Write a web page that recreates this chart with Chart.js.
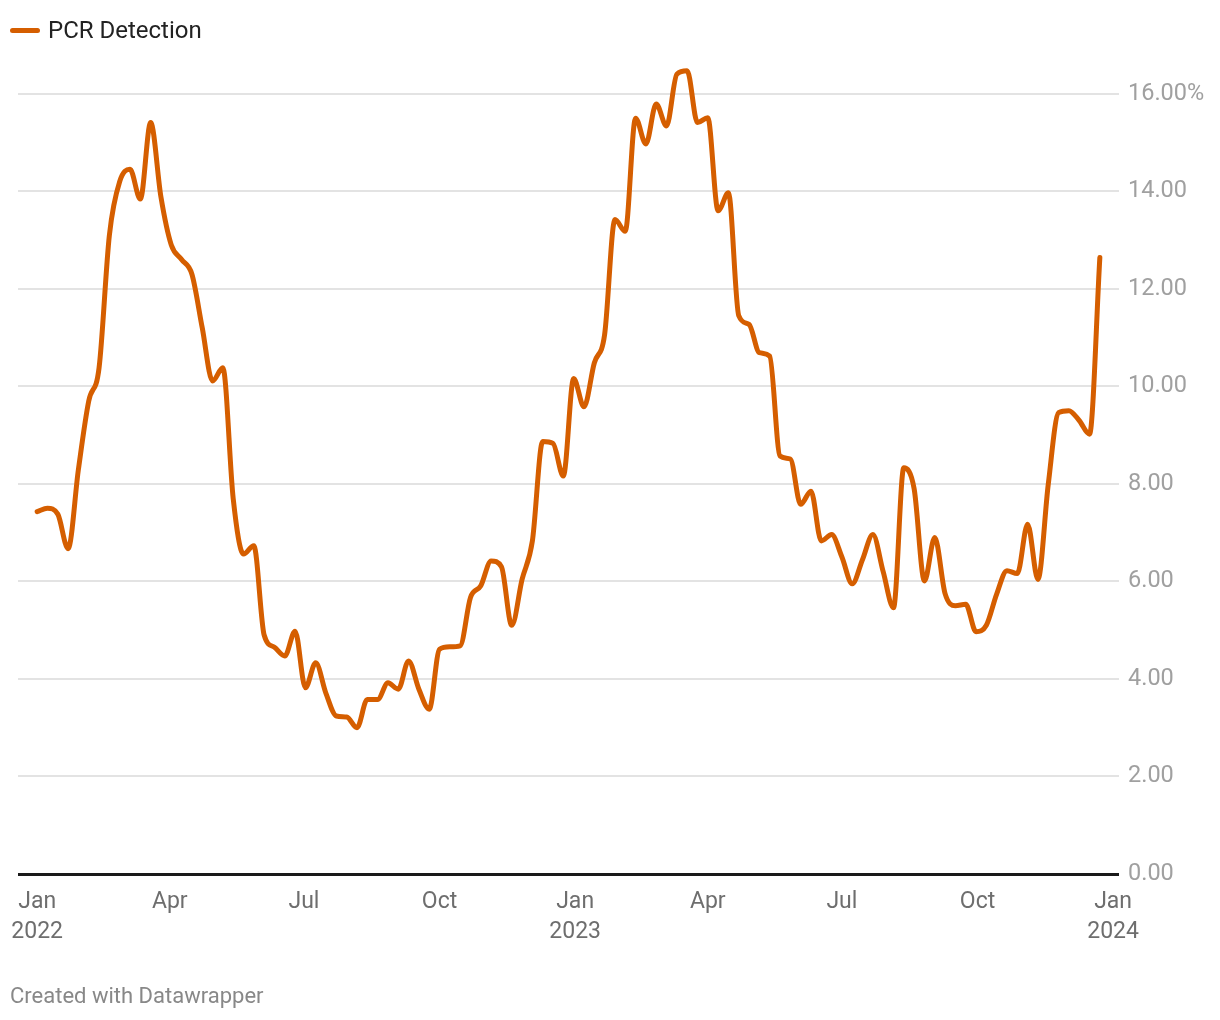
<!DOCTYPE html>
<html>
<head>
<meta charset="utf-8">
<script src="https://cdn.jsdelivr.net/npm/chart.js@4"></script>
<style>
  body { margin: 0; background: #fff; font-family: Roboto, sans-serif; }
  #wrap { position: relative; width: 1220px; height: 1020px; }
  #legend { position: absolute; left: 10px; top: 16px; font-size: 24px; color: #222; display: flex; align-items: center; }
  #legend span.sw { display: inline-block; width: 30px; height: 5px; border-radius: 3px; background: #d55e00; margin-right: 8px; }
  #footer { position: absolute; left: 10px; top: 983px; font-size: 22px; color: #888; }
  canvas { position: absolute; left: 0; top: 0; }
</style>
</head>
<body>
<div id="wrap">
  <canvas id="chart" width="1220" height="1020"></canvas>
  <div id="legend"><span class="sw"></span>PCR Detection</div>
  <div id="footer">Created with Datawrapper</div>
</div>
<script>
// weekly values, first week of Jan 2022 to last week of Dec 2023
const startDay = 0; // days since 2022-01-01
const pcrDetection = [
  7.43, 7.50, 7.38, 6.67, 8.3, 9.7, 10.38, 13.1, 14.2, 14.45,
  13.84, 15.41, 13.88, 12.9, 12.6, 12.3, 11.2, 10.11, 10.38, 7.7,
  6.56, 6.73, 4.9, 4.65, 4.47, 4.98, 3.82, 4.33, 3.7, 3.24,
  3.22, 3.0, 3.58, 3.58, 3.92, 3.79, 4.37, 3.79, 3.38, 4.61,
  4.66, 4.68, 5.67, 5.91, 6.42, 6.3, 5.10, 6.04, 6.83, 8.87,
  8.83, 8.16, 10.16, 9.58, 10.48, 11.06, 13.42, 13.18, 15.5, 14.97,
  15.79, 15.34, 16.40, 16.47, 15.41, 15.51, 13.60, 13.97, 11.45, 11.27,
  10.69, 10.62, 8.57, 8.51, 7.58, 7.85, 6.83, 6.96, 6.5, 5.95,
  6.45, 6.96, 6.2, 5.46, 8.33, 7.9, 6.01, 6.90, 5.75, 5.5,
  5.53, 4.97, 5.1, 5.74, 6.22, 6.16, 7.17, 6.04, 7.99, 9.46,
  9.50, 9.3, 9.02, 12.64
];

// x tick positions (days since 2022-01-01) and their labels
const xTickDays = [0, 90, 181, 273, 365, 455, 546, 638, 730];
const xTickLabels = [["Jan", "2022"], "Apr", "Jul", "Oct", ["Jan", "2023"], "Apr", "Jul", "Oct", ["Jan", "2024"]];
const yTicks = [0, 2, 4, 6, 8, 10, 12, 14, 16];

const points = pcrDetection.map((v, i) => ({ x: startDay + i * 7, y: v }));

const ctx = document.getElementById("chart").getContext("2d");
new Chart(ctx, {
  type: 'line',
  data: {
    datasets: [{
      label: 'PCR Detection',
      data: points,
      borderColor: '#d55e00',
      backgroundColor: '#d55e00',
      borderWidth: 5,
      pointRadius: 0,
      cubicInterpolationMode: 'monotone',
      borderCapStyle: 'round',
      borderJoinStyle: 'round'
    }]
  },
  options: {
    responsive: false,
    animation: false,
    layout: { padding: { left: 18, right: 0, top: 45, bottom: 79 } },
    plugins: { legend: { display: false }, tooltip: { enabled: false } },
    scales: {
      x: {
        type: 'linear',
        min: -13,
        max: 734,
        grid: { display: false },
        border: { display: false },
        afterBuildTicks: axis => { axis.ticks = xTickDays.map(d => ({ value: d })); },
        afterFit: axis => { axis.height = 67; },
        ticks: {
          autoSkip: false,
          maxRotation: 0,
          padding: 5,
          color: '#6e6e6e',
          font: { family: 'Roboto', size: 23, lineHeight: 1.3 },
          callback: (v) => xTickLabels[xTickDays.indexOf(v)]
        }
      },
      y: {
        position: 'right',
        min: 0,
        max: 17,
        border: { display: false },
        afterBuildTicks: axis => { axis.ticks = yTicks.map(v => ({ value: v })); },
        afterFit: axis => { axis.width = 101; },
        grid: {
          drawTicks: false,
          color: c => c.tick.value === 0 ? '#1a1a1a' : '#e3e3e3',
          lineWidth: c => c.tick.value === 0 ? 3 : 2
        },
        ticks: {
          padding: 9,
          color: '#a0a0a0',
          font: { family: 'Roboto', size: 23.5 },
          callback: v => v === 16 ? v.toFixed(2) + '%' : v.toFixed(2)
        }
      }
    }
  }
});
</script>
</body>
</html>
